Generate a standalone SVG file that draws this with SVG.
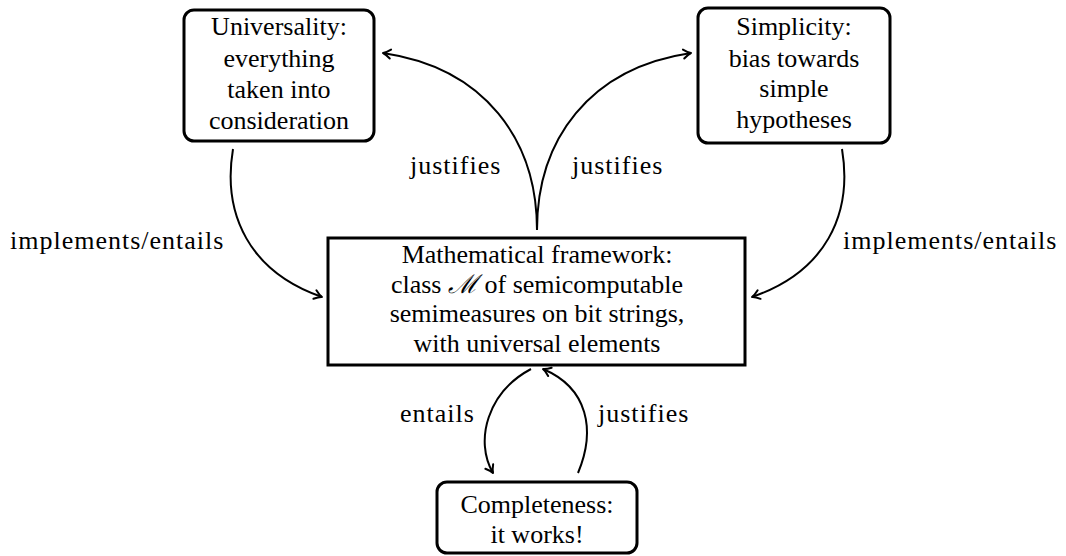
<svg xmlns="http://www.w3.org/2000/svg" width="1066" height="556" viewBox="0 0 1066 556" font-family="'Liberation Serif', 'Times New Roman', serif">
  <style>
    .box { fill: #fff; stroke: #000; stroke-width: 3; }
    text { font-family: 'Liberation Serif', 'Times New Roman', serif; font-size: 26px; fill: #000; }
    .t { text-anchor: middle; }
    .lbl { letter-spacing: 1px; }
    .edge { fill: none; stroke: #000; stroke-width: 2; marker-end: url(#arr); }
  </style>
  <defs>
    <marker id="arr" viewBox="-10 -6 12 12" refX="0" refY="0" markerWidth="12" markerHeight="12" markerUnits="userSpaceOnUse" orient="auto">
      <path d="M -7.5 -4.5 Q -3 -0.8 0 0 Q -3 0.8 -7.5 4.5" fill="none" stroke="#000" stroke-width="2" stroke-linecap="round" stroke-linejoin="round"/>
    </marker>
  </defs>
  <rect width="1066" height="556" fill="#fff"/>

  <g id="connectors">
    <!-- Universality -> framework -->
    <path class="edge" d="M 233 149 C 222 215, 250 272, 322 297"/>
    <!-- Simplicity -> framework -->
    <path class="edge" d="M 842 149 C 853 215, 825 272, 752 297"/>
    <!-- framework -> Universality / Simplicity -->
    <path class="edge" d="M 537 230 C 537 140, 485 68, 383 53"/>
    <path class="edge" d="M 537 230 C 537 140, 589 68, 691 53"/>
    <!-- framework -> Completeness -->
    <path class="edge" d="M 531 369 C 488 392, 474 440, 493 473"/>
    <!-- Completeness -> framework -->
    <path class="edge" d="M 578 473 C 596 430, 588 388, 543 369"/>
  </g>

  <g id="labels">
    <text class="lbl" x="10" y="249">implements/entails</text>
    <text class="lbl" x="843" y="249">implements/entails</text>
    <text class="lbl" x="410" y="174">justifies</text>
    <text class="lbl" x="572" y="174">justifies</text>
    <text class="lbl" x="400" y="422">entails</text>
    <text class="lbl" x="598" y="422">justifies</text>
  </g>

  <g id="universality">
    <rect class="box" x="184" y="10" width="190" height="131" rx="10"/>
    <text class="t" x="279" y="35">Universality:</text>
    <text class="t" x="279" y="67">everything</text>
    <text class="t" x="279" y="98">taken into</text>
    <text class="t" x="279" y="129">consideration</text>
  </g>

  <g id="simplicity">
    <rect class="box" x="698" y="8" width="192" height="135" rx="10"/>
    <text class="t" x="794" y="35">Simplicity:</text>
    <text class="t" x="794" y="67">bias towards</text>
    <text class="t" x="794" y="97">simple</text>
    <text class="t" x="794" y="128">hypotheses</text>
  </g>

  <g id="framework">
    <rect class="box" x="328" y="238" width="417" height="127"/>
    <text class="t" x="537" y="263">Mathematical framework:</text>
    <text class="t" x="537" y="293">class <tspan style="font-family: 'DejaVu Serif', serif; font-style: italic">ℳ</tspan> of semicomputable</text>
    <text class="t" x="537" y="322">semimeasures on bit strings,</text>
    <text class="t" x="537" y="352">with universal elements</text>
  </g>

  <g id="completeness">
    <rect class="box" x="437" y="482" width="200" height="71" rx="10"/>
    <text class="t" x="537" y="513">Completeness:</text>
    <text class="t" x="537" y="543">it works!</text>
  </g>
</svg>
